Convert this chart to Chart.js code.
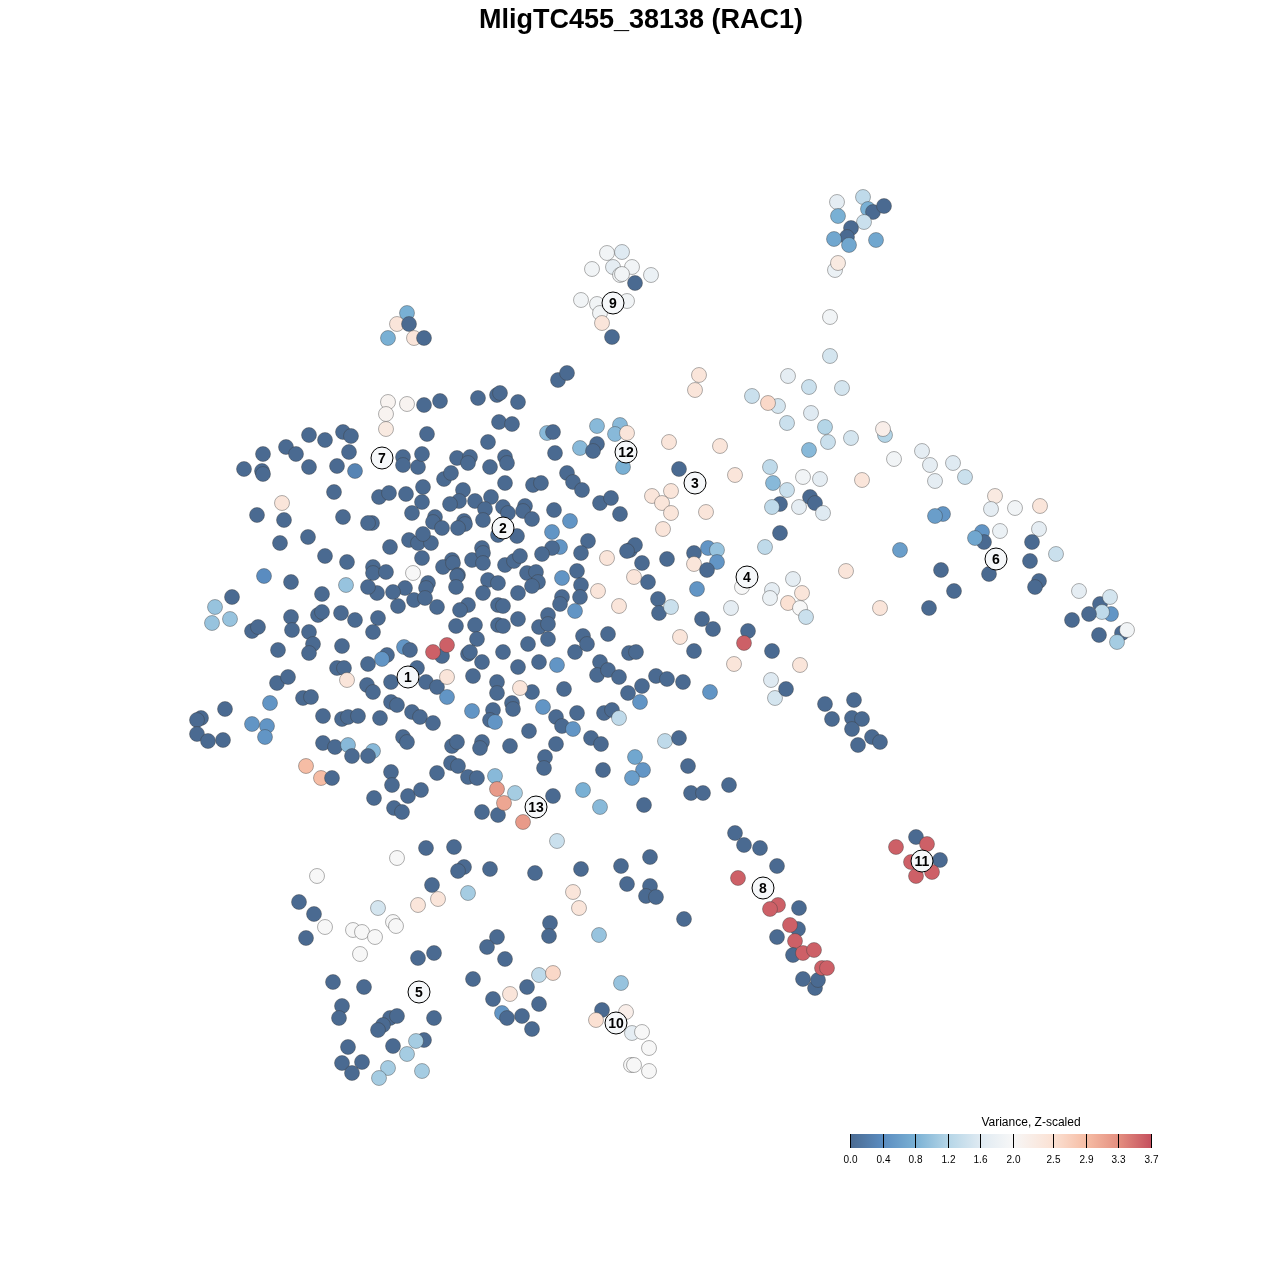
<!DOCTYPE html>
<html>
<head>
<meta charset="utf-8">
<title>MligTC455_38138 (RAC1)</title>
<script src="https://cdn.jsdelivr.net/npm/chart.js@4.4.0/dist/chart.umd.min.js"></script>
<style>
  body { margin: 0; background: #fff; }
  canvas { display: block; }
</style>
</head>
<body>
<canvas id="tsneChart" width="1280" height="1280"></canvas>
<script>
const plotTitle = 'MligTC455_38138 (RAC1)';
const legendTitle = 'Variance, Z-scaled';
const legendTicks = [0.0, 0.4, 0.8, 1.2, 1.6, 2.0, 2.5, 2.9, 3.3, 3.7];
const legendTickLabels = ['0.0', '0.4', '0.8', '1.2', '1.6', '2.0', '2.5', '2.9', '3.3', '3.7'];

// cluster label positions (t-SNE coords)
const clusterIds = ['1', '2', '3', '4', '5', '6', '7', '8', '9', '10', '11', '12', '13'];
const clusterX = [408, 503, 695, 747, 419, 996, 382, 763, 613, 616, 922, 626, 536];
const clusterY = [677, 528, 483, 577, 992, 559, 458, 888, 303, 1023, 861, 452, 807];

// cells: [x, y, variance]
const cellsIsland = [
  [407,313,0.8],[397,324,2.4],[409,324,0],[388,338,0.8],[414,338,2.4],[424,338,0]
];

const cells9 = [
  [607,253,1.9],[622,252,1.6],[592,269,1.9],[613,267,1.7],[632,267,1.9],[620,275,1.9],[622,274,1.9],
  [651,275,1.8],[635,283,0],[581,300,1.9],[597,304,1.9],[627,301,1.9],[600,313,1.9],[602,323,2.4],[612,337,0]
];

const cellsTopRight = [
  [837,202,1.7],[863,197,1.3],[838,216,0.8],[868,209,0.8],[873,212,0],[884,206,0],[864,222,1.4],
  [851,228,0],[847,237,0],[834,239,0.7],[849,245,0.7],[876,240,0.7],[835,270,1.8],[838,263,2.3],
  [830,317,1.9],[830,356,1.5],[842,388,1.5]
];

const cellsArm = [
  [699,375,2.4],[695,390,2.4],[788,376,1.7],[809,387,1.4],[752,396,1.4],[778,406,1.5],[768,403,2.6],
  [787,423,1.4],[811,413,1.6],[669,442,2.4],[720,446,2.4],[809,450,0.9],[770,467,1.3],[679,469,0],
  [735,475,2.4],[803,477,1.9],[820,479,1.7],[825,427,1.2],[828,442,1.4],[851,438,1.5],[885,435,1.2],
  [883,429,2.2],[894,459,1.9],[922,451,1.7],[930,465,1.7],[953,463,1.6],[965,477,1.4],[862,480,2.4],
  [935,481,1.7],[652,496,2.4],[671,491,2.4],[662,503,2.4],[671,513,2.4],[663,529,2.4],[706,512,2.4],
  [773,483,0.9],[787,490,1.4],[810,497,0],[815,503,0],[780,504,0],[772,507,1.3],[799,507,1.7],
  [823,513,1.6],[780,533,0],[765,547,1.3],[694,553,0],[708,548,0.5],[717,550,1.0],[694,564,2.4],
  [717,562,0.5],[707,570,0],[697,589,0.5],[742,587,2.0],[731,608,1.7],[702,619,0],[713,629,0],
  [748,631,0],[744,643,3.6],[793,579,1.7],[772,590,1.7],[770,598,1.8],[802,593,2.4],[788,603,2.5],
  [800,608,2.0],[806,617,1.4],[772,651,0],[800,665,2.4],[734,664,2.4],[771,680,1.6],[775,698,1.5],
  [786,689,0],[710,692,0.5],[680,637,2.4],[694,651,0],[667,559,0],[642,563,0],[648,582,0],
  [658,599,0],[659,613,0],[671,607,1.4],[630,550,0],[635,545,0],[634,577,2.4]
];

const cells6 = [
  [995,496,2.3],[991,509,1.7],[1015,508,1.9],[1040,506,2.4],[1039,529,1.7],[1000,531,1.8],
  [943,514,0.5],[935,516,0.6],[982,532,0.5],[984,542,0],[975,538,0.7],[900,550,0.6],[1032,542,0],
  [1030,561,0],[1056,554,1.4],[989,574,0],[941,570,0],[954,591,0],[929,608,0],[846,571,2.4],
  [880,608,2.4],[1039,581,0],[1035,587,0],[1079,591,1.7],[1100,604,0],[1110,597,1.5],[1111,614,0.5],
  [1102,612,1.3],[1089,614,0],[1072,620,0],[1122,633,0],[1127,630,1.9],[1117,642,1.1],[1099,635,0]
];

const cellsMidRight = [
  [825,704,0],[854,700,0],[832,719,0],[852,718,0],[862,719,0],[852,729,0],[872,737,0],[880,742,0],[858,745,0]
];

const cellsCoreNorth = [
  [309,435,0],[325,440,0],[343,432,0],[351,436,0],[286,447,0],[296,454,0],[349,452,0],[263,454,0],
  [244,469,0],[262,471,0],[263,474,0],[309,467,0],[337,466,0],[355,471,0.3],[558,380,0],[567,373,0],
  [388,402,2.1],[407,404,2.1],[386,414,2.1],[386,429,2.3],[424,405,0],[440,401,0],[478,398,0],
  [497,395,0],[500,393,0],[518,402,0],[499,422,0],[512,424,0],[427,434,0],[488,442,0],[547,433,0.9],
  [553,432,0],[597,426,0.9],[620,425,0.9],[615,434,0.9],[627,433,2.4],[580,448,0.9],[597,444,0],
  [593,451,0],[623,467,0.8],[555,453,0],[403,457,0],[403,465,0],[418,467,0],[422,454,0],[457,458,0],
  [470,457,0],[468,463,0],[490,467,0],[505,457,0],[507,463,0],[444,479,0],[451,473,0],[505,483,0],
  [533,485,0],[541,483,0],[567,473,0],[573,482,0],[582,490,0]
];

const cellsCoreMid = [
  [379,497,0],[389,493,0],[406,494,0],[423,487,0],[422,502,0],[463,490,0],[459,501,0],[450,504,0],
  [475,501,0],[491,497,0],[485,509,0],[503,507,0],[508,513,0],[525,506,0],[523,511,0],[532,519,0],
  [554,510,0],[570,521,0.5],[600,503,0],[611,498,0],[620,514,0],[372,523,0],[412,513,0],[435,517,0],
  [433,522,0],[442,528,0],[464,521,0],[465,524,0],[458,528,0],[483,520,0],[517,536,0],[498,535,0],
  [552,532,0.5],[560,547,0.5],[552,548,0],[588,541,0],[581,553,0],[542,554,0],[607,558,2.4],
  [390,547,0],[409,540,0],[418,543,0],[431,543,0],[423,534,0],[422,558,0],[452,560,0],[443,567,0],
  [453,563,0],[458,575,0],[472,560,0],[482,548,0],[483,553,0],[483,563,0],[505,565,0],[514,561,0],
  [520,556,0],[527,573,0],[536,572,0],[538,582,0],[532,586,0],[562,578,0.5],[577,571,0],[581,585,0],
  [598,591,2.4],[627,551,0],[373,567,0],[373,573,0],[386,572,0],[413,573,2.0],[428,583,0],[426,588,0],
  [405,588,0],[393,592,0],[377,593,0],[457,576,0],[456,587,0],[488,580,0],[498,583,0],[483,593,0],
  [518,593,0],[562,597,0],[580,597,0]
];

const cellsCoreWest = [
  [334,492,0],[282,503,2.4],[257,515,0],[284,520,0],[343,517,0],[368,523,0],[280,543,0],[308,537,0],
  [325,556,0],[347,562,0],[264,576,0.4],[291,582,0],[346,585,1.0],[232,597,0],[215,607,1.0],
  [230,619,1.0],[212,623,1.0],[252,631,0],[258,627,0],[291,617,0],[292,630,0],[309,632,0],[322,594,0],
  [318,615,0],[322,612,0],[341,613,0],[355,620,0],[378,618,0],[373,632,0],[368,587,0],[398,606,0],
  [414,600,0],[425,598,0],[437,607,0],[456,626,0],[475,625,0],[477,639,0],[498,625,0],[498,605,0],
  [468,605,0],[460,610,0],[313,644,0],[309,653,0],[278,650,0],[342,646,0],[337,668,0],[344,668,0],
  [368,664,0],[347,680,2.4],[277,683,0],[288,677,0],[404,647,0.5],[410,650,0],[387,655,0],
  [382,659,0.5],[442,656,0],[433,652,3.6],[447,645,3.6],[417,668,0],[391,682,0],[367,685,0],
  [373,692,0],[426,682,0],[437,687,0],[447,677,2.4],[447,697,0.5],[468,654,0],[470,652,0],[482,662,0],
  [473,676,0],[497,682,0],[497,693,0],[270,703,0.5],[225,709,0],[201,718,0],[197,720,0],[197,734,0],
  [208,741,0],[223,740,0],[252,724,0.5],[267,726,0.5],[265,737,0.5],[303,698,0],[311,697,0],
  [323,716,0],[342,719,0],[348,717,0],[358,716,0],[380,718,0],[391,702,0],[397,705,0],[412,712,0],
  [420,717,0],[433,723,0],[472,711,0.5],[493,710,0],[490,720,0],[495,722,0.5],[323,743,0],[335,747,0],
  [348,745,0.9],[352,756,0],[373,751,0.9],[368,756,0],[403,737,0],[407,742,0],[452,746,0],[457,742,0],
  [451,763,0],[458,766,0],[482,742,0],[480,748,0],[306,766,2.9],[321,778,2.9],[332,778,0],[391,772,0],
  [437,773,0],[468,777,0],[477,778,0],[495,776,0.9]
];

const cellsCoreEast = [
  [619,606,2.4],[560,604,0],[548,615,0],[539,627,0],[548,624,0],[575,611,0.5],[518,619,0],[503,606,0],
  [503,626,0],[548,639,0],[528,644,0],[503,652,0],[518,667,0],[539,662,0],[557,665,0.5],[575,652,0],
  [583,636,0],[587,644,0],[608,634,0],[629,653,0],[636,652,0],[600,662,0],[597,675,0],[608,670,0],
  [619,677,0],[656,676,0],[667,679,0],[683,682,0],[642,686,0],[628,693,0],[640,702,0.5],[564,689,0],
  [532,692,0],[520,688,2.4],[512,703,0],[513,709,0],[543,707,0.5],[556,717,0],[562,726,0],
  [573,729,0.5],[577,713,0],[604,713,0],[612,710,0],[619,718,1.3],[529,731,0],[510,746,0],[556,744,0],
  [545,757,0],[544,768,0],[591,738,0],[601,744,0],[603,770,0],[635,757,0.7],[643,770,0.5],
  [632,778,0.6],[665,741,1.3],[679,738,0],[688,766,0]
];

const cellsSouth = [
  [392,785,0],[374,798,0],[394,808,0],[402,812,0],[408,796,0],[421,790,0],[482,812,0],[498,815,0],
  [497,789,3.2],[504,803,3.1],[515,793,1.1],[523,822,3.2],[553,796,0],[583,790,0.8],[600,807,0.9],
  [644,805,0],[691,793,0],[703,793,0],[729,785,0],[557,841,1.4],[535,873,0],[581,869,0],[573,892,2.4],
  [579,908,2.4],[621,866,0],[650,857,0],[627,884,0],[650,886,0],[646,896,0],[656,897,0],[684,919,0],
  [550,923,0],[549,936,0],[599,935,1.0],[397,858,2.0],[317,876,2.0],[426,848,0],[454,847,0],[464,867,0],
  [458,871,0],[490,869,0],[432,885,0],[468,893,1.1],[418,905,2.4],[438,899,2.4],[378,908,1.5],
  [299,902,0],[314,914,0],[306,938,0],[325,927,2.0],[353,930,2.0],[362,932,2.0],[375,937,2.0],
  [393,922,2.0],[396,926,2.0],[360,954,2.0],[418,958,0],[434,953,0],[333,982,0],[364,987,0],[473,979,0],
  [497,937,0],[487,947,0],[505,959,0],[493,999,0],[502,1013,0.5],[507,1018,0],[522,1016,0],
  [532,1029,0],[539,1004,0],[527,987,0],[510,994,2.4],[539,975,1.3],[553,973,2.6],[342,1006,0],
  [339,1018,0],[390,1018,0],[397,1016,0],[383,1025,0],[378,1030,0],[434,1018,0],[348,1047,0],
  [342,1063,0],[352,1073,0],[362,1062,0],[393,1046,0],[424,1040,0],[416,1041,1.1],[407,1054,1.1],
  [388,1068,1.1],[379,1078,1.1],[422,1071,1.1],[621,983,1.0],[602,1010,0],[626,1012,2.2],
  [596,1020,2.5],[632,1033,1.7],[642,1032,2.0],[649,1048,2.0],[631,1065,2.0],[634,1065,2.0],[649,1071,2.0]
];

const cells8 = [
  [735,833,0],[744,845,0],[760,848,0],[777,866,0],[738,878,3.6],[799,908,0],[778,905,3.6],[770,909,3.6],
  [798,929,0],[790,925,3.6],[777,937,0],[795,941,3.6],[793,955,0],[803,979,0],[815,988,0],[818,980,0],
  [803,953,3.6],[814,950,3.6],[822,968,3.6],[827,968,3.6]
];

const cells11 = [
  [916,837,0],[940,860,0],[896,847,3.6],[927,844,3.6],[911,862,3.6],[932,872,3.6],[916,876,3.6]
];

// Diverging palette used for the variance scale
const colorStops = [
  [0.0, [74, 106, 145]], [0.4, [90, 140, 192]], [0.8, [121, 176, 212]], [1.2, [180, 213, 231]],
  [1.6, [223, 234, 242]], [2.0, [247, 247, 247]], [2.5, [251, 225, 211]], [2.9, [246, 189, 165]],
  [3.3, [228, 143, 128]], [3.7, [197, 80, 94]]
];

const varianceColor = (v) => {
  if (v <= colorStops[0][0]) return `rgb(${colorStops[0][1].join(',')})`;
  for (let i = 1; i < colorStops.length; i++) {
    const [v1, c1] = colorStops[i];
    const [v0, c0] = colorStops[i - 1];
    if (v <= v1) {
      const t = (v - v0) / (v1 - v0);
      const c = c0.map((ch, k) => Math.round(ch + (c1[k] - ch) * t));
      return `rgb(${c.join(',')})`;
    }
  }
  return `rgb(${colorStops[colorStops.length - 1][1].join(',')})`;
};

const allCells = [].concat(cellsIsland, cells9, cellsTopRight, cellsArm, cells6, cellsMidRight,
  cellsCoreNorth, cellsCoreMid, cellsCoreWest, cellsCoreEast, cellsSouth, cells8, cells11);

// Title, cluster tags and colour legend
const decorations = {
  id: 'decorations',
  afterDatasetsDraw(chart) {
    const ctx = chart.ctx;
    const xs = chart.scales.x;
    const ys = chart.scales.y;
    ctx.save();

    // cluster labels
    clusterIds.forEach((id, i) => {
      const px = xs.getPixelForValue(clusterX[i]);
      const py = ys.getPixelForValue(clusterY[i]);
      ctx.beginPath();
      ctx.arc(px, py, 11, 0, Math.PI * 2);
      ctx.fillStyle = '#f6f8fa';
      ctx.fill();
      ctx.lineWidth = 1;
      ctx.strokeStyle = '#000';
      ctx.stroke();
      ctx.fillStyle = '#000';
      ctx.font = 'bold 14px "Liberation Sans", Arial, sans-serif';
      ctx.textAlign = 'center';
      ctx.textBaseline = 'middle';
      ctx.fillText(id, px, py + 1);
    });

    // title
    ctx.fillStyle = '#000';
    ctx.font = 'bold 27px "Liberation Sans", Arial, sans-serif';
    ctx.textAlign = 'center';
    ctx.textBaseline = 'alphabetic';
    ctx.fillText(plotTitle, 641, 28);

    // colour bar
    const x0 = 850, x1 = 1151, yTop = 1134, h = 14;
    const vMax = legendTicks[legendTicks.length - 1];
    const grad = ctx.createLinearGradient(x0, 0, x1, 0);
    colorStops.forEach(([v]) => grad.addColorStop(v / vMax, varianceColor(v)));
    ctx.fillStyle = grad;
    ctx.fillRect(x0, yTop, x1 - x0, h);

    ctx.strokeStyle = '#000';
    ctx.lineWidth = 1;
    ctx.font = '10px "Liberation Sans", Arial, sans-serif';
    ctx.textBaseline = 'middle';
    legendTicks.forEach((v, i) => {
      const tx = Math.round(x0 + (v / vMax) * (x1 - x0)) + 0.5;
      ctx.beginPath();
      ctx.moveTo(tx, yTop);
      ctx.lineTo(tx, yTop + h);
      ctx.stroke();
      ctx.fillStyle = '#000';
      ctx.fillText(legendTickLabels[i], tx, 1160);
    });

    ctx.font = '12px "Liberation Sans", Arial, sans-serif';
    ctx.fillText(legendTitle, 1031, 1123);
    ctx.restore();
  }
};

const initTsneChart = () => {
  const ctx = document.getElementById('tsneChart').getContext('2d');
  return new Chart(ctx, {
    type: 'scatter',
    data: {
      datasets: [{
        data: allCells.map(c => ({ x: c[0], y: c[1] })),
        pointBackgroundColor: allCells.map(c => varianceColor(c[2])),
        pointBorderColor: 'rgba(60, 60, 60, 0.5)',
        pointBorderWidth: 0.8,
        pointRadius: 7.5,
        pointHoverRadius: 7.5
      }]
    },
    options: {
      responsive: false,
      animation: false,
      layout: { padding: 0, autoPadding: false },
      events: [],
      plugins: {
        legend: { display: false },
        tooltip: { enabled: false },
        title: { display: false }
      },
      scales: {
        x: { type: 'linear', min: 0, max: 1280, display: false },
        y: { type: 'linear', min: 0, max: 1280, reverse: true, display: false }
      }
    },
    plugins: [decorations]
  });
};

document.addEventListener('DOMContentLoaded', () => {
  initTsneChart();
});
</script>
</body>
</html>
